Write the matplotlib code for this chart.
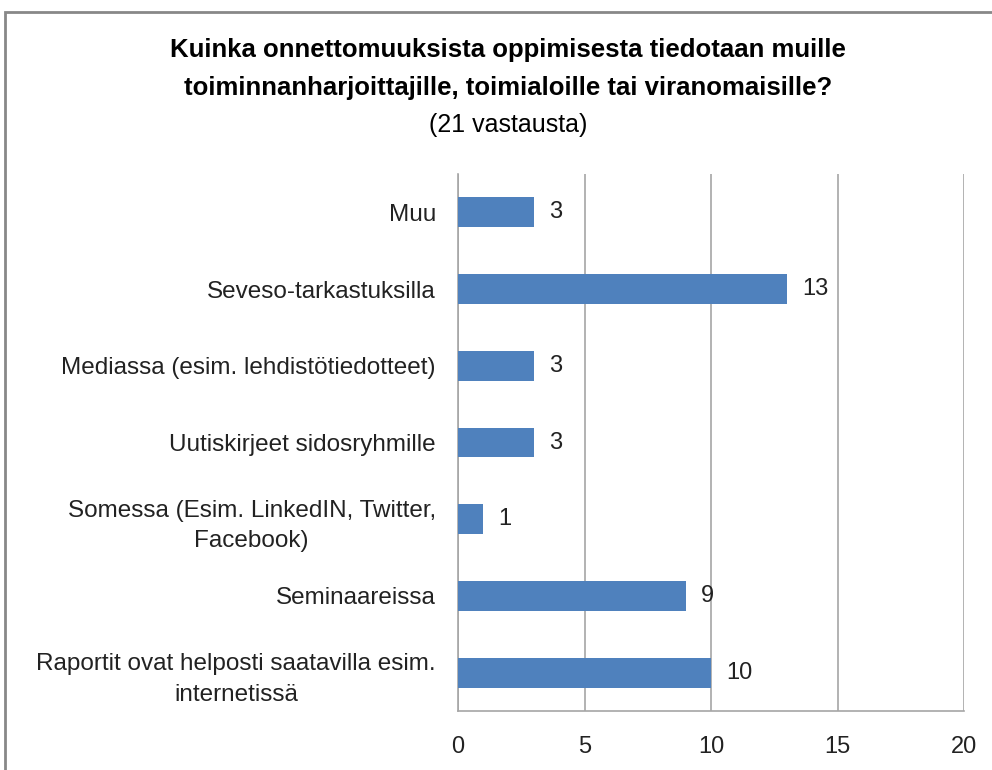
import matplotlib.pyplot as plt
from matplotlib.patches import Rectangle

categories = [
    "Raportit ovat helposti saatavilla esim.\ninternetissä",
    "Seminaareissa",
    "Somessa (Esim. LinkedIN, Twitter,\nFacebook)",
    "Uutiskirjeet sidosryhmille",
    "Mediassa (esim. lehdistötiedotteet)",
    "Seveso-tarkastuksilla",
    "Muu",
]
values = [10, 9, 1, 3, 3, 13, 3]
xticks = [0, 5, 10, 15, 20]

plt.rcParams['font.family'] = ['Liberation Sans', 'DejaVu Sans']

fig = plt.figure(figsize=(9.92, 7.70), dpi=100)
ax = fig.add_axes([458 / 992, 1 - 711 / 770, (964 - 458) / 992, (711 - 174) / 770])

grid_col = '#a6a6a6'
ypos = list(range(len(categories)))
ax.barh(ypos, values, height=0.39, color='#4f81bd', zorder=3)
for y, v in zip(ypos, values):
    ax.text(v + 0.6, y, str(v), va='center', ha='left', fontsize=17, color='#222222')

ax.set_xlim(0, 20)
ax.set_ylim(-0.5, len(categories) - 0.5)
ax.set_xticks(xticks)
ax.set_yticks(ypos)
ax.set_yticklabels(categories, fontsize=17.5, ha='right', multialignment='center',
                   linespacing=1.5, color='#222222')
ax.tick_params(axis='y', length=0, pad=16)
ax.tick_params(axis='x', length=0, pad=18, labelsize=17, labelcolor='#222222')
ax.xaxis.grid(True, color=grid_col, linewidth=1.2, zorder=0)
ax.spines['top'].set_visible(False)
ax.spines['right'].set_visible(False)
for s in ['left', 'bottom']:
    ax.spines[s].set_color(grid_col)
    ax.spines[s].set_linewidth(1.2)

fig.text(508 / 992, 1 - 50 / 770, "Kuinka onnettomuuksista oppimisesta tiedotaan muille",
         ha='center', va='center', fontsize=18.5, fontweight='bold')
fig.text(508 / 992, 1 - 88 / 770, "toiminnanharjoittajille, toimialoille tai viranomaisille?",
         ha='center', va='center', fontsize=18.5, fontweight='bold')
fig.text(508 / 992, 1 - 125 / 770, "(21 vastausta)", ha='center', va='center', fontsize=18)

fig.patches.append(Rectangle((5 / 992, -0.05), 1.2, 1 - 12 / 770 + 0.05,
                             transform=fig.transFigure, fill=False,
                             edgecolor='#888888', linewidth=2))

fig.savefig('out.png', dpi=100)
